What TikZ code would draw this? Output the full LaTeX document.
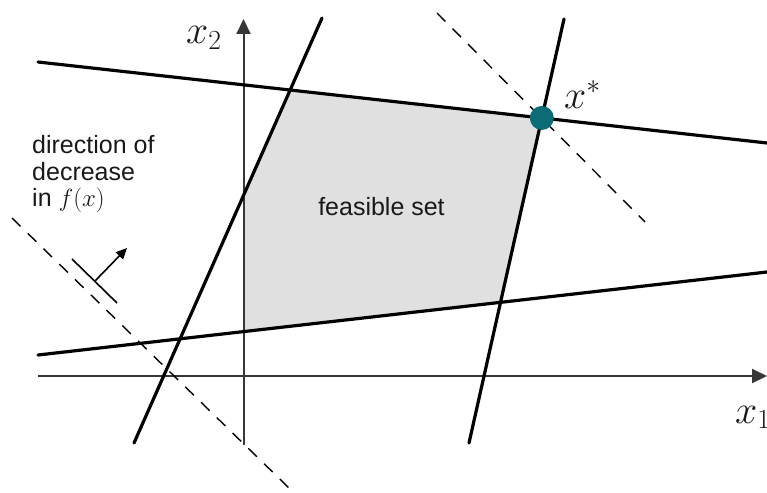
\documentclass[tikz,border=0pt]{standalone}
\usepackage{graphicx}
\usepackage{fontspec}
\setmainfont{Liberation Sans}
\usetikzlibrary{arrows.meta}
\definecolor{feas}{RGB}{224,224,224}
\definecolor{axisgray}{RGB}{55,55,55}
\definecolor{dotteal}{RGB}{12,108,118}
\newcommand{\bigmath}[1]{\scalebox{1.6}{\fontsize{25}{25}\selectfont$#1$}}
\begin{document}
\begin{tikzpicture}[x=1pt,y=-1pt,
  constraint/.style={line width=3.2pt, black, line cap=round},
  axisline/.style={line width=2pt, axisgray, -{Triangle[length=15pt,width=14pt]}},
  level/.style={line width=1.4pt, black, dash pattern=on 12pt off 10pt},
  lbl/.style={font=\fontsize{25}{26.5}\selectfont, inner sep=0pt, text=black!90},
  mathlbl/.style={inner sep=0pt, text=black!90}]
\useasboundingbox (0,0) rectangle (767,492);
% constraint line endpoints
\coordinate (t1) at (38,62);   \coordinate (t2) at (767,143);
\coordinate (b1) at (38,355);  \coordinate (b2) at (767,272);
\coordinate (l1) at (134,443); \coordinate (l2) at (322,18);
\coordinate (r1) at (469,443); \coordinate (r2) at (564,19);
% axes
\coordinate (xo) at (38,376);   \coordinate (xe) at (767,376);
\coordinate (yo) at (243.5,445); \coordinate (ye) at (243.5,19);
% level lines
\coordinate (d1) at (437,13);  \coordinate (d2) at (645,222);
\coordinate (e1) at (12,218);  \coordinate (e2) at (289,488);
% direction mark
\coordinate (m1) at (72,259);  \coordinate (m2) at (117,303);
\coordinate (mc) at (95,281);  \coordinate (ma) at (127,248);

% feasible set
\fill[feas] (intersection of yo--ye and l1--l2) -- (intersection of l1--l2 and t1--t2)
  -- (intersection of t1--t2 and r1--r2) -- (intersection of r1--r2 and b1--b2)
  -- (intersection of b1--b2 and yo--ye) -- cycle;

% axes
\draw[axisline] (xo) -- (xe);
\draw[axisline] (yo) -- (ye);

% constraints
\draw[constraint] (t1) -- (t2);
\draw[constraint] (b1) -- (b2);
\draw[constraint] (l1) -- (l2);
\draw[constraint] (r1) -- (r2);

% level lines
\draw[level] (d1) -- (d2);
\draw[level] (e1) -- (e2);

% direction mark
\draw[line width=1.6pt] (m1) -- (m2);
\draw[line width=1.6pt, -{Triangle[length=11pt,width=10pt]}] (mc) -- (ma);

% optimum
\node[circle, fill=dotteal, minimum size=24pt, inner sep=0pt] (xs)
  at (intersection of t1--t2 and r1--r2) {};

% labels
\node[mathlbl, anchor=base west] (x2lab) at (186,44) {\bigmath{x_2}};
\node[mathlbl, anchor=base west] (x1lab) at (735,423) {\bigmath{x_1}};
\node[mathlbl, anchor=base west] (xslab) at (564,108) {\bigmath{x^*}};
\node[lbl, anchor=base west] (dir1) at (32,153) {direction of};
\node[lbl, anchor=base west] (dir2) at (32,180) {decrease};
\node[lbl, anchor=base west] (dir3) at (32,206) {in $f(x)$};
\node[lbl, anchor=base] (feaslab) at (381.5,215) {feasible set};
\end{tikzpicture}
\end{document}
